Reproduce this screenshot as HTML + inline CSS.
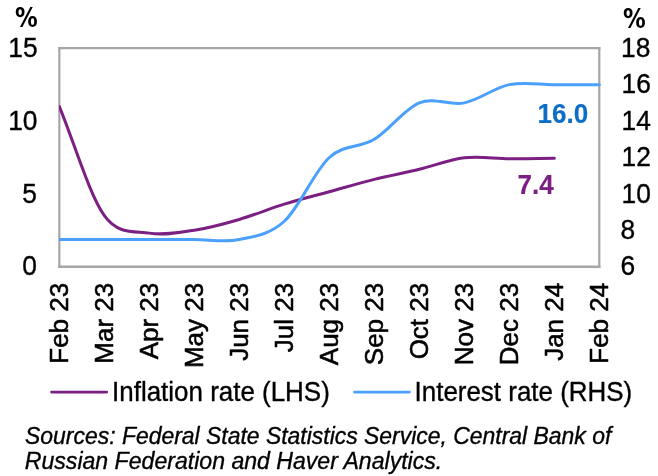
<!DOCTYPE html>
<html><head><meta charset="utf-8"><title>Inflation and interest rate</title><style>
html,body{margin:0;padding:0;background:#fff;width:658px;height:476px;overflow:hidden}
svg{display:block;will-change:transform}
text{font-family:"Liberation Sans", Arial, Helvetica, sans-serif;fill:#000;stroke:#000;stroke-width:0.35px;stroke-linejoin:round}
.t{font-size:26.5px}
.b{font-size:26.5px;font-weight:bold;stroke-width:0.15px}
.p{font-family:"DejaVu Sans","Liberation Sans",sans-serif;font-size:26px;font-weight:bold;stroke-width:0}
.x{font-size:26px;stroke-width:0.55px}
.lg{font-size:26px}
.src{font-size:22.9px;font-style:italic}
</style></head><body>
<svg width="658" height="476" viewBox="0 0 658 476">
<defs><clipPath id="pa"><rect x="59.1" y="0" width="560" height="300"/></clipPath></defs>
<path d="M59.35,47.10V268.10M599.3,47.10V268.10" stroke="#a6a6a6" stroke-width="2.2" fill="none"/>
<path d="M58.25,48.2H600.40" stroke="#a6a6a6" stroke-width="2.2" fill="none"/>
<path d="M58.25,266.75H600.40" stroke="#a6a6a6" stroke-width="2.6" fill="none"/>
<g clip-path="url(#pa)" fill="none" stroke-width="3" stroke-linejoin="round" stroke-linecap="round">
<path d="M59.35,106.64 C74.35,142.98 89.35,194.56 104.35,215.65 C118.34,235.32 135.35,230.87 149.34,233.14 C164.34,235.56 179.34,232.50 194.34,230.22 C209.34,227.94 224.33,223.78 239.33,219.44 C254.33,215.09 269.33,208.75 284.33,204.13 C299.33,199.52 314.33,195.88 329.32,191.75 C344.32,187.62 359.32,183.10 374.32,179.36 C389.32,175.62 404.32,172.90 419.32,169.30 C434.32,165.71 449.31,159.56 464.31,157.79 C479.31,156.02 494.31,158.57 509.31,158.67 C524.31,158.76 539.31,158.47 554.30,158.37" stroke="#7b1f83"/>
<path d="M59.35,239.48 C74.35,239.48 89.35,239.48 104.35,239.48 C119.34,239.48 134.34,239.48 149.34,239.48 C164.34,239.48 179.34,239.48 194.34,239.48 C209.34,239.48 224.33,242.51 239.33,239.48 C254.33,236.44 269.33,234.92 284.33,221.26 C299.33,207.60 314.33,171.16 329.32,157.50 C344.32,143.84 359.32,148.39 374.32,139.28 C389.32,130.17 404.32,108.92 419.32,102.85 C434.32,96.78 449.31,105.89 464.31,102.85 C479.31,99.81 494.31,87.67 509.31,84.63 C524.31,81.60 539.31,84.63 554.30,84.63 C569.30,84.63 584.30,84.63 599.30,84.63" stroke="#4aa0fc"/>
</g>
<text transform="translate(36.87,275.00) scale(0.9950,1.0670)" text-anchor="end" class="t">0</text>
<text transform="translate(36.95,202.93) scale(0.9950,1.0670)" text-anchor="end" class="t">5</text>
<text transform="translate(37.53,130.07) scale(0.9950,1.0670)" text-anchor="end" class="t">10</text>
<text transform="translate(37.57,57.20) scale(0.9950,1.0670)" text-anchor="end" class="t">15</text>
<text transform="translate(620.50,274.90) scale(0.9950,1.0670)" class="t">6</text>
<text transform="translate(620.50,239.37) scale(0.9950,1.0670)" class="t">8</text>
<text transform="translate(621.50,202.93) scale(0.9950,1.0670)" class="t">10</text>
<text transform="translate(621.50,165.70) scale(0.9950,1.0670)" class="t">12</text>
<text transform="translate(621.50,130.07) scale(0.9950,1.0670)" class="t">14</text>
<text transform="translate(621.50,93.23) scale(0.9950,1.0670)" class="t">16</text>
<text transform="translate(621.12,57.20) scale(0.9950,1.0670)" class="t">18</text>
<text transform="translate(37.83,26.60) scale(0.8720,1.0000)" text-anchor="end" class="p">%</text>
<text transform="translate(623.00,27.60) scale(0.8720,1.0000)" class="p">%</text>
<text transform="translate(67.85,282.80) rotate(-90) scale(1.0000,1.0200)" text-anchor="end" class="x">Feb 23</text>
<text transform="translate(112.85,282.80) rotate(-90) scale(1.0000,1.0200)" text-anchor="end" class="x">Mar 23</text>
<text transform="translate(157.84,282.80) rotate(-90) scale(1.0000,1.0200)" text-anchor="end" class="x">Apr 23</text>
<text transform="translate(202.84,282.80) rotate(-90) scale(1.0000,1.0200)" text-anchor="end" class="x">May 23</text>
<text transform="translate(247.83,282.80) rotate(-90) scale(1.0000,1.0200)" text-anchor="end" class="x">Jun 23</text>
<text transform="translate(292.83,282.80) rotate(-90) scale(1.0000,1.0200)" text-anchor="end" class="x">Jul 23</text>
<text transform="translate(337.82,282.80) rotate(-90) scale(1.0000,1.0200)" text-anchor="end" class="x">Aug 23</text>
<text transform="translate(382.82,282.80) rotate(-90) scale(1.0000,1.0200)" text-anchor="end" class="x">Sep 23</text>
<text transform="translate(427.82,282.80) rotate(-90) scale(1.0000,1.0200)" text-anchor="end" class="x">Oct 23</text>
<text transform="translate(472.81,282.80) rotate(-90) scale(1.0000,1.0200)" text-anchor="end" class="x">Nov 23</text>
<text transform="translate(517.81,282.80) rotate(-90) scale(1.0000,1.0200)" text-anchor="end" class="x">Dec 23</text>
<text transform="translate(562.80,282.80) rotate(-90) scale(1.0000,1.0200)" text-anchor="end" class="x">Jan 24</text>
<text transform="translate(607.80,282.80) rotate(-90) scale(1.0000,1.0200)" text-anchor="end" class="x">Feb 24</text>
<text transform="translate(588.22,123.00) scale(0.9850,1.0700)" text-anchor="end" class="b" style="fill:#0d6ec6;stroke:#0d6ec6">16.0</text>
<text transform="translate(553.73,194.00) scale(0.9850,1.0700)" text-anchor="end" class="b" style="fill:#7b1f83;stroke:#7b1f83">7.4</text>
<text transform="translate(112.07,401.00) scale(0.9980,1.0500)" class="lg">Inflation rate (LHS)</text>
<text transform="translate(414.54,401.00) scale(0.9980,1.0500)" class="lg">Interest rate (RHS)</text>
<text transform="translate(25.02,443.80) scale(1.0020,1.0550)" class="src">Sources: Federal State Statistics Service, Central Bank of</text>
<text transform="translate(24.80,469.20) scale(1.0083,1.0550)" class="src">Russian Federation and Haver Analytics.</text>
<line x1="51.6" y1="392.1" x2="106.7" y2="392.1" stroke="#7b1f83" stroke-width="2.8" stroke-linecap="round"/>
<line x1="354.6" y1="392.1" x2="409.4" y2="392.1" stroke="#4aa0fc" stroke-width="2.8" stroke-linecap="round"/>
</svg>
</body></html>
